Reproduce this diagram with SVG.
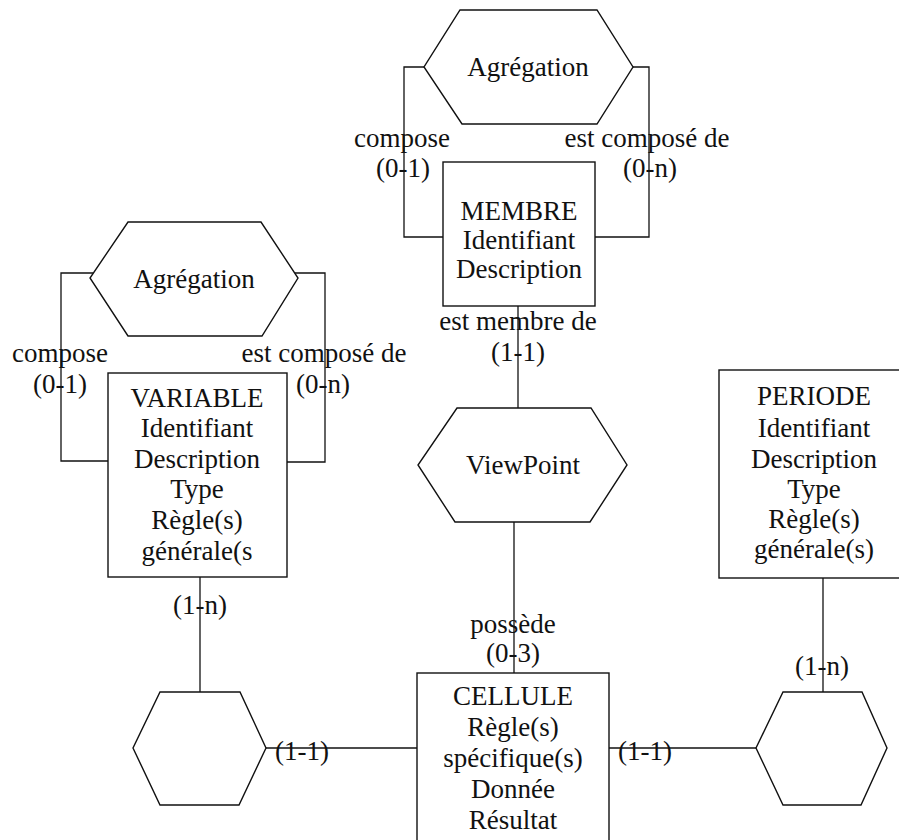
<svg xmlns="http://www.w3.org/2000/svg" width="899" height="840" viewBox="0 0 899 840">
<style>
.s{fill:#fff;stroke:#111;stroke-width:1.4}
.c{fill:none;stroke:#111;stroke-width:1.3}
text{font-family:"Liberation Serif","Times New Roman",serif;font-size:27px;fill:#111;text-anchor:middle}
</style>
<rect width="899" height="840" fill="#fff"/>
<g id="connectors">
<polyline class="c" points="424,67 404,67 404,237 443,237"/>
<polyline class="c" points="633,67 649,67 649,237 595,237"/>
<line class="c" x1="518" y1="306" x2="518" y2="408"/>
<polyline class="c" points="93,273 61,273 61,461 108,461"/>
<polyline class="c" points="295,273 325,273 325,462 287,462"/>
<line class="c" x1="514" y1="522" x2="514" y2="673"/>
<line class="c" x1="200" y1="577" x2="200" y2="692"/>
<line class="c" x1="266" y1="748" x2="417" y2="748"/>
<line class="c" x1="609" y1="748" x2="756" y2="748"/>
<line class="c" x1="823" y1="578" x2="823" y2="692"/>
<text x="402" y="147">compose</text>
<text x="403" y="177">(0-1)</text>
<text x="647" y="147">est composé de</text>
<text x="650" y="177">(0-n)</text>
<text x="518" y="330">est membre de</text>
<text x="518" y="361">(1-1)</text>
<text x="60" y="362">compose</text>
<text x="60" y="393">(0-1)</text>
<text x="324" y="362">est composé de</text>
<text x="323" y="393">(0-n)</text>
<text x="200" y="614">(1-n)</text>
<text x="513" y="633">possède</text>
<text x="513" y="662">(0-3)</text>
<text x="302" y="760">(1-1)</text>
<text x="645" y="760">(1-1)</text>
<text x="822" y="675">(1-n)</text>
</g>
<g id="agregation_membre">
<polygon class="s" points="460,10 597,10 633,67 597,124 462,124 424,67"/>
<text x="528" y="76">Agrégation</text>
</g>
<g id="membre">
<rect class="s" x="443" y="162" width="152" height="144"/>
<text x="519" y="220">MEMBRE</text>
<text x="519" y="249">Identifiant</text>
<text x="519" y="278">Description</text>
</g>
<g id="agregation_variable">
<polygon class="s" points="128,222 261,222 298,278 262,336 128,336 90,278"/>
<text x="194" y="288">Agrégation</text>
</g>
<g id="variable">
<rect class="s" x="108" y="373" width="179" height="204"/>
<text x="197" y="407">VARIABLE</text>
<text x="197" y="437">Identifiant</text>
<text x="197" y="468">Description</text>
<text x="197" y="498">Type</text>
<text x="197" y="529">Règle(s)</text>
<text x="197" y="560">générale(s</text>
</g>
<g id="viewpoint">
<polygon class="s" points="457,408 591,408 627,465 590,522 455,522 418,465"/>
<text x="523" y="474">ViewPoint</text>
</g>
<g id="periode">
<rect class="s" x="719" y="370" width="191" height="208"/>
<text x="814" y="405">PERIODE</text>
<text x="814" y="437">Identifiant</text>
<text x="814" y="468">Description</text>
<text x="814" y="498">Type</text>
<text x="814" y="528">Règle(s)</text>
<text x="814" y="558">générale(s)</text>
</g>
<g id="cellule">
<rect class="s" x="417" y="673" width="192" height="180"/>
<text x="513" y="705">CELLULE</text>
<text x="513" y="736">Règle(s)</text>
<text x="513" y="767">spécifique(s)</text>
<text x="513" y="798">Donnée</text>
<text x="513" y="829">Résultat</text>
</g>
<g id="relation_variable_cellule">
<polygon class="s" points="160,692 240,692 266,748 239,805 160,805 133,748"/>
</g>
<g id="relation_cellule_periode">
<polygon class="s" points="783,692 862,692 887,748 861,805 783,805 756,748"/>
</g>
</svg>
